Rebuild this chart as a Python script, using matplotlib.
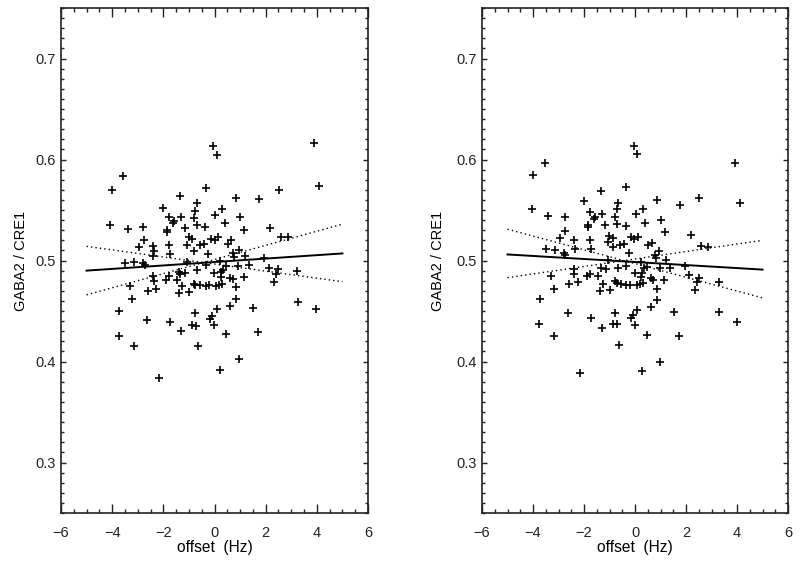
import numpy as np
import matplotlib
matplotlib.use("Agg")
import matplotlib.pyplot as plt
from matplotlib.ticker import MultipleLocator

plt.rcParams['font.family'] = ['Liberation Sans', 'DejaVu Sans']

# left panel: raw ratio vs frequency offset
x_left = [-0.05, 0.08, 3.89, -3.56, 4.10, -4.00, -0.35, 2.51, -1.35, 0.84,
          1.74, -0.70, -2.00, 0.31, -0.75, -1.79, -1.30, 0.01, 1.01, -0.81,
          -1.57, -1.63, 0.40, -4.07, -3.39, -2.78, -1.17, -0.70, -0.36, -1.87,
          -1.84, 1.17, 2.17, -0.98, -0.88, -0.15, 0.14, 0.01, 0.64, 0.51,
          2.58, 2.86, -2.77, -2.39, -2.95, -1.79, -1.07, -0.57, -0.40, -0.81,
          -2.35, 0.97, 0.72, -0.27, -1.75, -2.39, 1.19, 0.78, 1.92, -3.50,
          -3.14, -2.81, -2.71, -1.07, 0.21, -0.35, 0.45, 0.90, 1.35, 2.13,
          2.48, 3.24, -0.70, 0.32, -1.39, -1.15, -1.33, -0.02, 0.25, 2.40,
          -2.40, -1.79, -2.38, -1.91, -1.45, 0.61, 0.71, 1.14, 0.24, 2.32,
          -3.30, -2.27, -2.58, -1.27, -0.81, -0.75, -0.57, -0.35, -0.21, 0.06,
          0.19, 0.28, 0.83, -1.39, -0.98, -3.21, 0.83, 0.62, 0.08, 1.49,
          3.26, 3.98, -3.73, -0.77, -0.11, -0.18, -2.62, -1.74, -0.88, -0.74,
          -0.01, -1.32, 1.70, -3.74, 0.46, -3.16, -0.64, 0.94, 0.23, -2.15]
y_left = [0.613, 0.604, 0.616, 0.584, 0.574, 0.570, 0.572, 0.570, 0.564, 0.562,
          0.561, 0.557, 0.552, 0.551, 0.549, 0.543, 0.543, 0.545, 0.543, 0.542,
          0.539, 0.537, 0.537, 0.535, 0.531, 0.533, 0.532, 0.535, 0.533, 0.530,
          0.528, 0.530, 0.532, 0.523, 0.521, 0.521, 0.523, 0.520, 0.520, 0.516,
          0.523, 0.523, 0.520, 0.514, 0.513, 0.515, 0.515, 0.515, 0.516, 0.509,
          0.509, 0.510, 0.507, 0.506, 0.506, 0.504, 0.504, 0.503, 0.502, 0.498,
          0.499, 0.498, 0.496, 0.499, 0.500, 0.496, 0.495, 0.495, 0.496, 0.493,
          0.492, 0.490, 0.491, 0.491, 0.489, 0.488, 0.487, 0.488, 0.489, 0.487,
          0.485, 0.485, 0.480, 0.481, 0.481, 0.483, 0.482, 0.484, 0.484, 0.479,
          0.475, 0.472, 0.470, 0.475, 0.477, 0.476, 0.476, 0.475, 0.476, 0.475,
          0.476, 0.477, 0.474, 0.468, 0.469, 0.462, 0.462, 0.455, 0.452, 0.453,
          0.459, 0.452, 0.450, 0.448, 0.445, 0.442, 0.441, 0.439, 0.436, 0.435,
          0.436, 0.430, 0.429, 0.425, 0.427, 0.415, 0.415, 0.402, 0.392, 0.384]

# right panel: corrected ratio
x_right = [-0.04, 0.09, -3.54, 3.92, -3.99, -0.34, -1.34, 2.52, -2.01, 0.85,
           1.75, -0.65, 4.13, -4.05, -0.72, 0.31, -1.76, -1.28, 0.03, -3.41,
           -2.75, -1.55, -0.78, -1.61, 1.03, 0.39, -1.16, -0.72, -0.35, -1.85,
           -1.84, 1.19, -2.75, 2.18, -2.94, -2.39, -1.78, -1.01, -0.87, -0.16,
           0.13, -0.03, -1.07, -0.59, -0.42, 0.52, 0.65, 2.60, 2.87, -3.49,
           -3.12, -2.37, -1.71, -0.85, -2.79, -2.73, -0.25, 0.95, 0.78, 0.84,
           1.21, -1.04, 0.23, 1.95, -0.34, 0.46, 0.97, 1.38, -2.38, -1.32,
           -1.15, -0.68, 0.34, -3.30, -2.39, -1.78, -1.89, -1.45, 0.01, 0.26,
           2.13, 2.51, 0.61, 0.70, 1.15, 0.25, 2.42, 3.28, -2.57, -2.25,
           -1.25, -0.78, -0.72, -0.55, -0.35, -0.20, 0.08, 0.20, 0.31, 0.86,
           -3.17, -1.37, -0.97, 2.36, 0.85, -3.72, 0.64, 0.09, 1.51, 3.29,
           -2.61, -0.77, -0.09, -0.16, -1.71, 4.01, -3.75, -0.87, -0.72, 0.01,
           -1.29, 0.48, 1.72, -3.16, -0.61, 0.97, -2.15, 0.26]
y_right = [0.613, 0.605, 0.597, 0.597, 0.585, 0.573, 0.569, 0.562, 0.559, 0.560,
           0.555, 0.557, 0.557, 0.551, 0.551, 0.551, 0.548, 0.546, 0.546, 0.544,
           0.543, 0.543, 0.543, 0.541, 0.540, 0.537, 0.535, 0.536, 0.534, 0.535,
           0.533, 0.528, 0.529, 0.525, 0.522, 0.520, 0.520, 0.524, 0.522, 0.523,
           0.523, 0.521, 0.518, 0.515, 0.516, 0.515, 0.517, 0.514, 0.513, 0.511,
           0.510, 0.511, 0.511, 0.513, 0.507, 0.505, 0.507, 0.509, 0.505, 0.502,
           0.501, 0.501, 0.499, 0.495, 0.495, 0.494, 0.493, 0.493, 0.492, 0.493,
           0.492, 0.493, 0.493, 0.485, 0.487, 0.487, 0.485, 0.485, 0.488, 0.488,
           0.486, 0.483, 0.483, 0.481, 0.481, 0.484, 0.479, 0.479, 0.477, 0.479,
           0.477, 0.480, 0.478, 0.477, 0.476, 0.476, 0.476, 0.477, 0.478, 0.472,
           0.472, 0.470, 0.471, 0.471, 0.461, 0.462, 0.454, 0.451, 0.449, 0.449,
           0.448, 0.448, 0.446, 0.443, 0.443, 0.439, 0.437, 0.437, 0.437, 0.436,
           0.433, 0.426, 0.425, 0.425, 0.416, 0.400, 0.389, 0.391]

# fitted line and slope-error lines, endpoints at x = -5 and 5
line_x = [-5, 5]
fit_left = [0.490, 0.507]
lo_left = [0.514, 0.479]
hi_left = [0.466, 0.536]
fit_right = [0.506, 0.491]
lo_right = [0.531, 0.463]
hi_right = [0.483, 0.520]

fig = plt.figure(figsize=(8, 5.64), dpi=100)
ax1 = fig.add_axes([0.07625, 0.0904, 0.38375, 0.8954])
ax2 = fig.add_axes([0.6025, 0.0904, 0.3825, 0.8954])

panels = [(ax1, x_left, y_left, fit_left, lo_left, hi_left, -0.107),
          (ax2, x_right, y_right, fit_right, lo_right, hi_right, -0.122)]

for ax, xs, ys, fit, lo, hi, ylab_x in panels:
    ax.plot(xs, ys, '+', color='black', markersize=6.2, mew=1.2)
    ax.plot(line_x, fit, color='black', lw=1.4)
    ax.plot(line_x, lo, color='black', lw=1.0, ls=(0, (1, 2.2)))
    ax.plot(line_x, hi, color='black', lw=1.0, ls=(0, (1, 2.2)))

    ax.set_xlim(-6, 6)
    ax.set_ylim(0.25, 0.75)
    ax.xaxis.set_major_locator(MultipleLocator(2))
    ax.xaxis.set_minor_locator(MultipleLocator(0.5))
    ax.yaxis.set_major_locator(MultipleLocator(0.1))
    ax.yaxis.set_minor_locator(MultipleLocator(0.01))
    ax.tick_params(which='both', direction='in', top=True, right=True,
                   colors='#222222', labelsize=10.5)
    ax.tick_params(axis='x', which='major', length=6.5, width=1, pad=9)
    ax.tick_params(axis='x', which='minor', length=3, width=1)
    ax.tick_params(axis='y', which='major', length=3.8, width=1, pad=4)
    ax.tick_params(axis='y', which='minor', length=2.2, width=1)
    for s in ax.spines.values():
        s.set_linewidth(1.2)
        s.set_color('#222222')

    ax.set_xlabel('offset  (Hz)', fontsize=11.2)
    ax.set_ylabel('GABA2 / CRE1', fontsize=10.5)
    ax.xaxis.set_label_coords(0.5, -0.054)
    ax.yaxis.set_label_coords(ylab_x, 0.5)

fig.savefig('out.png', dpi=100)
